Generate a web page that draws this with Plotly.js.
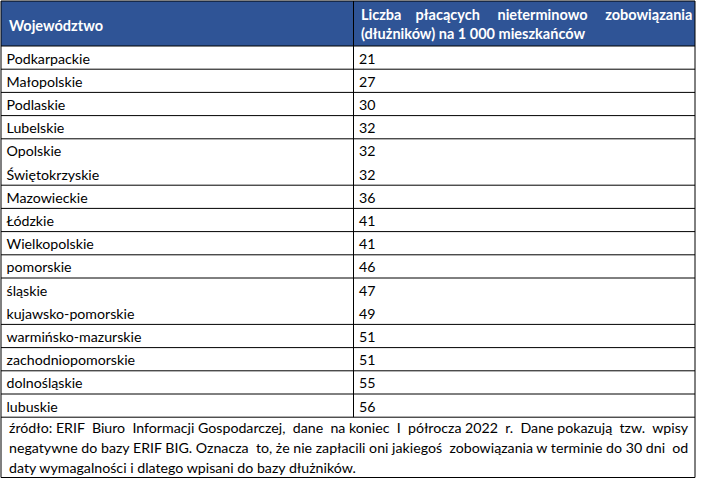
<!DOCTYPE html>
<html>
<head>
<meta charset="utf-8">
<script src="https://cdn.plot.ly/plotly-3.0.1.min.js"></script>
<style>html,body{margin:0;padding:0;background:#fff}#chart{width:707px;height:498px}</style>
</head>
<body>
<div id="chart"></div>
<script>
// ---------------- data ----------------
const headerCol1 = "Województwo";
const headerCol2Lines = ["Liczba płacących nieterminowo zobowiązania", "(dłużników) na 1 000 mieszkańców"];
const regions = ["Podkarpackie","Małopolskie","Podlaskie","Lubelskie","Opolskie","Świętokrzyskie","Mazowieckie","Łódzkie","Wielkopolskie","pomorskie","śląskie","kujawsko-pomorskie","warmińsko-mazurskie","zachodniopomorskie","dolnośląskie","lubuskie"];
const debtorsPer1000 = [21,27,30,32,32,32,36,41,41,46,47,49,51,51,55,56];
// consecutive rows sharing one bordered cell in the original table
const rowGroupSizes = [1,1,1,1,2,1,1,1,1,2,1,1,1,1];
const footnoteLines = [
  "źródło: ERIF Biuro Informacji Gospodarczej, dane na koniec I półrocza 2022 r. Dane pokazują tzw. wpisy",
  "negatywne do bazy ERIF BIG. Oznacza to, że nie zapłacili oni jakiegoś zobowiązania w terminie do 30 dni od",
  "daty wymagalności i dlatego wpisani do bazy dłużników."
];

// ---------------- styling / geometry ----------------
const W = 707, H = 498;
const FAMILY = "Lato";
const FONT = "Lato, 'Open Sans', sans-serif";
const BODY_SIZE = 14.2, HEAD_SIZE = 14.5;
const ROW_H = 23.2;              // px per table row
const TOP = 1, HEAD_BOTTOM = 46;  // px
const LEFT = 1, DIVIDER = 353.5, RIGHT = 695;
const FOOT_BOTTOM = 477.5, FOOT_GAP = 20, FOOT_FIRST = 10.3;
const PAD = 5.5;
const TEXT_DROP = 2.4;           // px, visual centring of cell text
const HEADER_BLUE = "#2F5496";

// pixel row position -> row units on the y axis
const u = px => (px - HEAD_BOTTOM) / ROW_H;
const nRows = regions.length;
const footTopPx = HEAD_BOTTOM + nRows * ROW_H;

// justify a line to a target pixel width using non-breaking spaces
const ctx = document.createElement("canvas").getContext("2d");
function justify(line, target, font) {
  ctx.font = font;
  const words = line.split(" ");
  const natural = ctx.measureText(line).width;
  const nb = ctx.measureText("\u00a0").width || 3.5;
  const gaps = words.length - 1;
  const extra = Math.max(0, Math.round((target - natural) / nb));
  let out = words[0];
  for (let i = 1; i <= gaps; i++) {
    const k = Math.floor(i * extra / gaps) - Math.floor((i - 1) * extra / gaps);
    out += " " + "\u00a0".repeat(k) + words[i];
  }
  return out;
}

// ---------------- traces: table cells ----------------
const rowY = regions.map((_, i) => i + 0.5 + TEXT_DROP / ROW_H);
const nameTrace = {
  type: "scatter", mode: "text", x: regions.map(() => LEFT + PAD), y: rowY,
  text: regions, textposition: "middle right", marker: {size: 0},
  textfont: {family: FONT, size: BODY_SIZE, color: "#000"},
  hoverinfo: "skip", cliponaxis: false, showlegend: false
};
const valueTrace = {
  type: "scatter", mode: "text", x: debtorsPer1000.map(() => DIVIDER + PAD), y: rowY,
  text: debtorsPer1000.map(String), textposition: "middle right", marker: {size: 0},
  textfont: {family: FONT, size: BODY_SIZE, color: "#000"},
  hoverinfo: "skip", cliponaxis: false, showlegend: false
};

// ---------------- shapes: header fill and borders ----------------
const shapes = [];
const line = (x0, y0, x1, y1) => ({type: "line", xref: "x", yref: "y", x0, y0, x1, y1,
  line: {color: "#000", width: 1}});
shapes.push({type: "rect", xref: "x", yref: "y", x0: LEFT, x1: RIGHT, y0: u(TOP), y1: 0,
  fillcolor: HEADER_BLUE, line: {width: 0}, layer: "below"});
let acc = 0;
const boundaries = [0];
rowGroupSizes.forEach(n => { acc += n; boundaries.push(acc); });
shapes.push(line(LEFT, u(TOP), RIGHT, u(TOP)));
boundaries.forEach(b => shapes.push(line(LEFT, b, RIGHT, b)));
shapes.push(line(LEFT, u(FOOT_BOTTOM), RIGHT, u(FOOT_BOTTOM)));
shapes.push(line(LEFT, u(TOP), LEFT, u(FOOT_BOTTOM)));
shapes.push(line(RIGHT, u(TOP), RIGHT, u(FOOT_BOTTOM)));
shapes.push(line(DIVIDER, u(TOP), DIVIDER, nRows));

// ---------------- annotations: header + footnote ----------------
const headFont = "bold " + HEAD_SIZE + "px " + FAMILY;
const bodyFont = BODY_SIZE + "px " + FAMILY;
const headMid = u((TOP + HEAD_BOTTOM) / 2);
const annotations = [
  {xref: "x", yref: "y", x: LEFT + PAD, y: headMid + 1.5 / ROW_H, xanchor: "left", yanchor: "middle",
   text: "<b>" + headerCol1 + "</b>", showarrow: false,
   font: {family: FONT, size: HEAD_SIZE, color: "#fff"}},
  {xref: "x", yref: "y", x: DIVIDER + PAD, y: headMid, xanchor: "left", yanchor: "middle", align: "left",
   text: "<b>" + justify(headerCol2Lines[0], RIGHT - DIVIDER - 2 * PAD, headFont) + "<br>" + headerCol2Lines[1] + "</b>",
   showarrow: false, font: {family: FONT, size: HEAD_SIZE, color: "#fff"}}
];
footnoteLines.forEach((ln, k) => {
  const txt = k < footnoteLines.length - 1 ? justify(ln, RIGHT - LEFT - 2 * PAD - 3, bodyFont) : ln;
  annotations.push({xref: "x", yref: "y", x: LEFT + PAD, y: u(footTopPx + FOOT_FIRST + k * FOOT_GAP),
    xanchor: "left", yanchor: "middle", text: txt, showarrow: false,
    font: {family: FONT, size: BODY_SIZE, color: "#000"}});
});

Plotly.newPlot("chart", [nameTrace, valueTrace], {
  width: W, height: H,
  margin: {l: 0, r: 0, t: 0, b: 0, pad: 0},
  paper_bgcolor: "#fff", plot_bgcolor: "#fff",
  xaxis: {range: [0, W], visible: false, fixedrange: true},
  yaxis: {range: [u(H), u(0)], visible: false, fixedrange: true},
  shapes, annotations, showlegend: false
}, {staticPlot: true, displayModeBar: false});
</script>
</body>
</html>
